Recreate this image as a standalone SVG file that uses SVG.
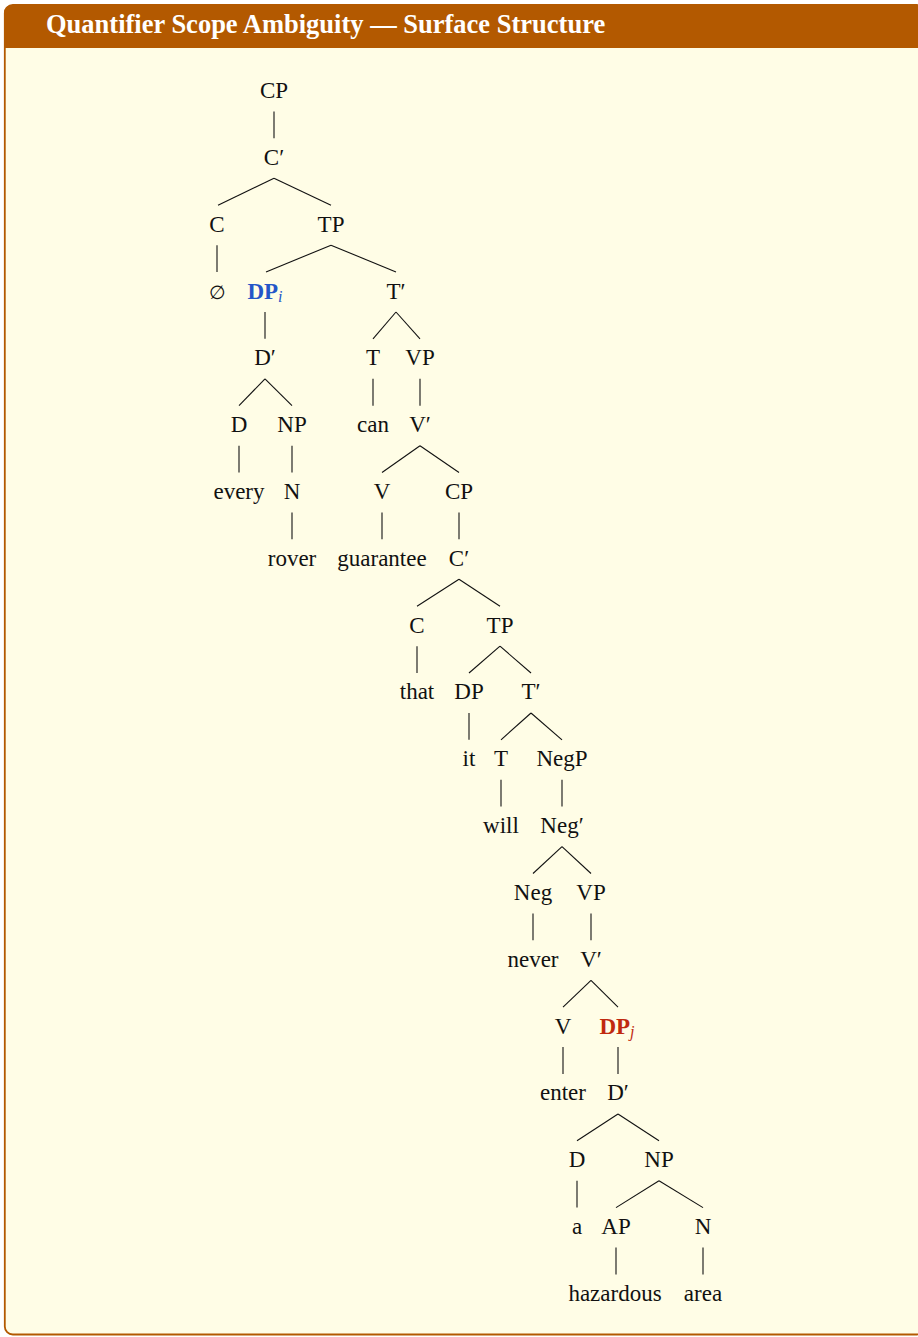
<svg xmlns="http://www.w3.org/2000/svg" width="918" height="1337" viewBox="0 0 918 1337">
<style>
.n{font-family:"Liberation Serif","Times New Roman",serif;font-size:23px;fill:#111;text-anchor:middle}
.b{font-weight:bold}
.sub{font-style:italic;font-size:16px;font-weight:normal}
.blue{fill:#2456c8}
.red{fill:#c0290f}
.e line{stroke:#111;stroke-width:1.1;fill:none}
.title{font-family:"Liberation Serif","Times New Roman",serif;font-size:26.5px;font-weight:bold;fill:#fff}
</style>
<g id="frame">
<rect x="4.8" y="5" width="920" height="1329.5" rx="8" ry="8" fill="#fffde6" stroke="#b35900" stroke-width="1.8"/>
<path d="M4 48 V13 A8 8 0 0 1 12 5 H925 V48 Z" fill="#b35900"/>
<text class="title" x="46" y="33">Quantifier Scope Ambiguity — Surface Structure</text>
</g>
<g id="edges" class="e">
<line x1="274" y1="111.5" x2="274" y2="138.3"/>
<line x1="274" y1="178.3" x2="218" y2="205.2"/><line x1="274" y1="178.3" x2="331" y2="205.2"/>
<line x1="217" y1="245.2" x2="217" y2="272"/>
<line x1="331" y1="245.2" x2="266" y2="272"/><line x1="331" y1="245.2" x2="396" y2="272"/>
<line x1="265" y1="312" x2="265" y2="338.8"/>
<line x1="396" y1="312" x2="373" y2="338.8"/><line x1="396" y1="312" x2="420" y2="338.8"/>
<line x1="265" y1="378.8" x2="239" y2="405.7"/><line x1="265" y1="378.8" x2="292" y2="405.7"/>
<line x1="373" y1="378.8" x2="373" y2="405.7"/>
<line x1="420" y1="378.8" x2="420" y2="405.7"/>
<line x1="239" y1="445.7" x2="239" y2="472.5"/>
<line x1="292" y1="445.7" x2="292" y2="472.5"/>
<line x1="420" y1="445.7" x2="382" y2="472.5"/><line x1="420" y1="445.7" x2="459" y2="472.5"/>
<line x1="292" y1="512.5" x2="292" y2="539.3"/>
<line x1="382" y1="512.5" x2="382" y2="539.3"/>
<line x1="459" y1="512.5" x2="459" y2="539.3"/>
<line x1="459" y1="579.3" x2="417" y2="606.2"/><line x1="459" y1="579.3" x2="500" y2="606.2"/>
<line x1="417" y1="646.2" x2="417" y2="673"/>
<line x1="500" y1="646.2" x2="469" y2="673"/><line x1="500" y1="646.2" x2="531" y2="673"/>
<line x1="469" y1="713" x2="469" y2="739.8"/>
<line x1="531" y1="713" x2="501" y2="739.8"/><line x1="531" y1="713" x2="562" y2="739.8"/>
<line x1="501" y1="779.8" x2="501" y2="806.6"/>
<line x1="562" y1="779.8" x2="562" y2="806.6"/>
<line x1="562" y1="846.6" x2="533" y2="873.5"/><line x1="562" y1="846.6" x2="591" y2="873.5"/>
<line x1="533" y1="913.5" x2="533" y2="940.3"/>
<line x1="591" y1="913.5" x2="591" y2="940.3"/>
<line x1="591" y1="980.3" x2="563" y2="1007.1"/><line x1="591" y1="980.3" x2="618" y2="1007.1"/>
<line x1="563" y1="1047.1" x2="563" y2="1074"/>
<line x1="618" y1="1047.1" x2="618" y2="1074"/>
<line x1="618" y1="1114" x2="577" y2="1140.8"/><line x1="618" y1="1114" x2="659" y2="1140.8"/>
<line x1="577" y1="1180.8" x2="577" y2="1207.6"/>
<line x1="659" y1="1180.8" x2="616" y2="1207.6"/><line x1="659" y1="1180.8" x2="703" y2="1207.6"/>
<line x1="616" y1="1247.6" x2="616" y2="1274.5"/>
<line x1="703" y1="1247.6" x2="703" y2="1274.5"/>
</g>
<g id="n-CP"><text class="n" x="274" y="98">CP</text></g>
<g id="n-Cbar"><text class="n" x="274" y="165">C′</text></g>
<g id="n-C"><text class="n" x="217" y="232">C</text></g>
<g id="n-TP"><text class="n" x="331" y="232">TP</text></g>
<g id="n-null"><text class="n" x="217" y="299" style="font-family:'DejaVu Serif','Liberation Serif',serif;font-size:19px">∅</text></g>
<g id="n-DPi"><text class="n b blue" x="265" y="299">DP<tspan class="sub" dy="3">i</tspan></text></g>
<g id="n-Tbar"><text class="n" x="396" y="299">T′</text></g>
<g id="n-Dbar"><text class="n" x="265" y="365">D′</text></g>
<g id="n-T"><text class="n" x="373" y="365">T</text></g>
<g id="n-VP"><text class="n" x="420" y="365">VP</text></g>
<g id="n-D"><text class="n" x="239" y="432">D</text></g>
<g id="n-NP"><text class="n" x="292" y="432">NP</text></g>
<g id="n-can"><text class="n" x="373" y="432">can</text></g>
<g id="n-Vbar"><text class="n" x="420" y="432">V′</text></g>
<g id="n-every"><text class="n" x="239" y="499">every</text></g>
<g id="n-N"><text class="n" x="292" y="499">N</text></g>
<g id="n-V"><text class="n" x="382" y="499">V</text></g>
<g id="n-CP2"><text class="n" x="459" y="499">CP</text></g>
<g id="n-rover"><text class="n" x="292" y="566">rover</text></g>
<g id="n-guarantee"><text class="n" x="382" y="566">guarantee</text></g>
<g id="n-Cbar2"><text class="n" x="459" y="566">C′</text></g>
<g id="n-C2"><text class="n" x="417" y="633">C</text></g>
<g id="n-TP2"><text class="n" x="500" y="633">TP</text></g>
<g id="n-that"><text class="n" x="417" y="699">that</text></g>
<g id="n-DP2"><text class="n" x="469" y="699">DP</text></g>
<g id="n-Tbar2"><text class="n" x="531" y="699">T′</text></g>
<g id="n-it"><text class="n" x="469" y="766">it</text></g>
<g id="n-T2"><text class="n" x="501" y="766">T</text></g>
<g id="n-NegP"><text class="n" x="562" y="766">NegP</text></g>
<g id="n-will"><text class="n" x="501" y="833">will</text></g>
<g id="n-Negbar"><text class="n" x="562" y="833">Neg′</text></g>
<g id="n-Neg"><text class="n" x="533" y="900">Neg</text></g>
<g id="n-VP2"><text class="n" x="591" y="900">VP</text></g>
<g id="n-never"><text class="n" x="533" y="967">never</text></g>
<g id="n-Vbar2"><text class="n" x="591" y="967">V′</text></g>
<g id="n-V2"><text class="n" x="563" y="1034">V</text></g>
<g id="n-DPj"><text class="n b red" x="617" y="1034">DP<tspan class="sub" dy="3">j</tspan></text></g>
<g id="n-enter"><text class="n" x="563" y="1100">enter</text></g>
<g id="n-Dbar2"><text class="n" x="618" y="1100">D′</text></g>
<g id="n-D2"><text class="n" x="577" y="1167">D</text></g>
<g id="n-NP2"><text class="n" x="659" y="1167">NP</text></g>
<g id="n-a"><text class="n" x="577" y="1234">a</text></g>
<g id="n-AP"><text class="n" x="616" y="1234">AP</text></g>
<g id="n-N2"><text class="n" x="703" y="1234">N</text></g>
<g id="n-hazardous"><text class="n" x="615" y="1301">hazardous</text></g>
<g id="n-area"><text class="n" x="703" y="1301">area</text></g>
</svg>
